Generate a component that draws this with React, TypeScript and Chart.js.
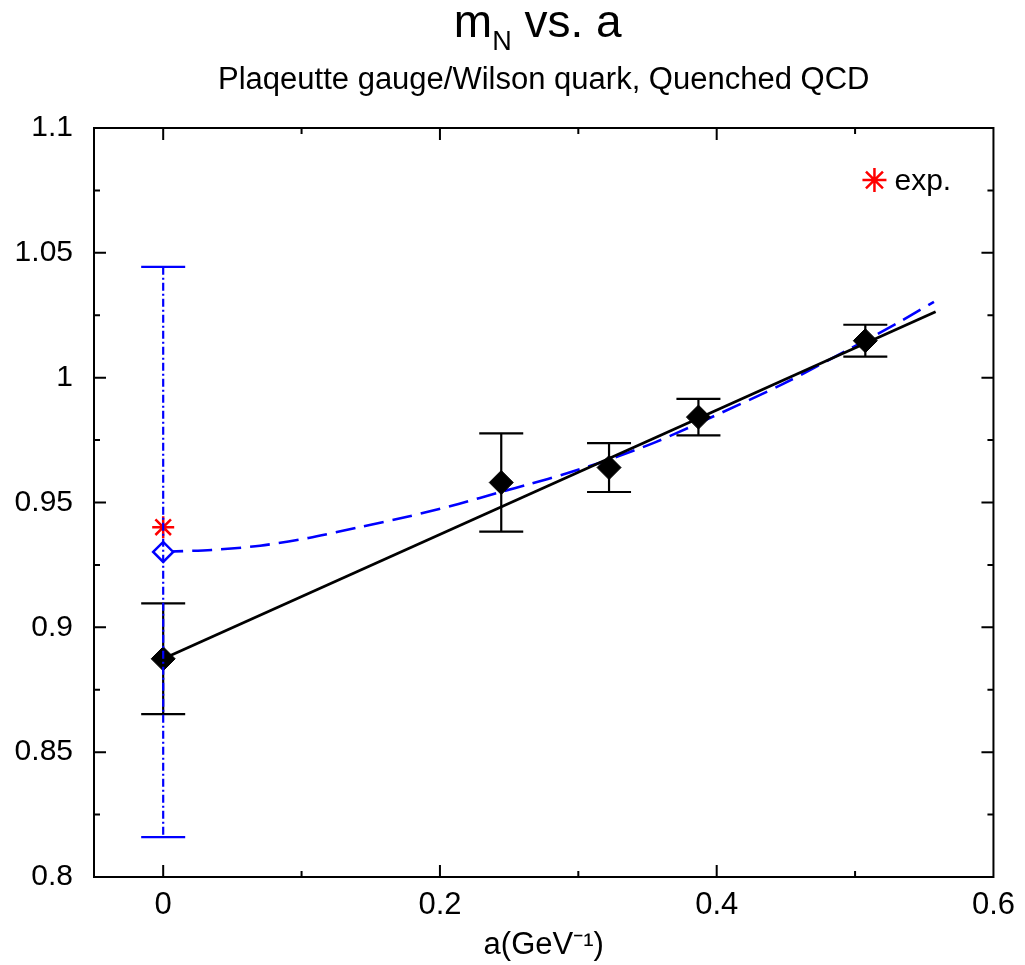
import React, { useEffect, useRef } from "react";
import { Chart, registerables } from "chart.js";

Chart.register(...registerables);

const SANS = "'Liberation Sans', Arial, Helvetica, sans-serif";

// ---- axis ticks ----
const xTickValues = [0, 0.2, 0.4, 0.6];
const xTickLabels = ["0", "0.2", "0.4", "0.6"];
const xMinorTicks = [0.1, 0.3, 0.5];
const yTickValues = [0.8, 0.85, 0.9, 0.95, 1.0, 1.05, 1.1];
const yTickLabels = ["0.8", "0.85", "0.9", "0.95", "1", "1.05", "1.1"];
const yMinorTicks = [0.825, 0.875, 0.925, 0.975, 1.025, 1.075];

// ---- simulation points (black diamonds) ----
const simA = [0, 0.2443, 0.3222, 0.3868, 0.5074];
const simM = [0.8874, 0.9580, 0.9640, 0.9842, 1.0148];
const simErr = [0.0222, 0.0197, 0.0098, 0.0073, 0.0064];

// ---- continuum value from curved fit (blue open diamond) ----
const contA = [0];
const contM = [0.9302];
const contErr = [0.1142];

// ---- experiment ----
const expA = [0];
const expM = [0.9401];

// ---- linear fit (black solid) ----
const linFitA = [0, 0.5582];
const linFitM = [0.8874, 1.0264];

// ---- curved fit (blue dashed) ----
const curveA = [0, 0.035, 0.07, 0.105, 0.1415, 0.178, 0.2134, 0.2443, 0.2636, 0.2924, 0.3223, 0.355, 0.3858, 0.448, 0.4959, 0.5318, 0.557];
const curveM = [0.9303, 0.931, 0.9327, 0.9358, 0.9401, 0.9445, 0.9494, 0.9543, 0.9572, 0.9618, 0.9672, 0.974, 0.9815, 0.9975, 1.0115, 1.0222, 1.0304];

const pts = (xs: number[], ys: number[]) => xs.map((v, i) => ({ x: v, y: ys[i] }));

const errorBarPlugin = {
  id: "errorBars",
  afterDatasetsDraw(chart: any) {
    const { ctx, scales } = chart;
    const x = scales.x;
    const y = scales.y;
    const bar = (a: number, m: number, e: number, color: string, dash: number[]) => {
      const px = x.getPixelForValue(a);
      const t = y.getPixelForValue(m + e);
      const b = y.getPixelForValue(m - e);
      ctx.save();
      ctx.strokeStyle = color;
      ctx.lineWidth = 2.2;
      ctx.setLineDash(dash);
      ctx.beginPath();
      ctx.moveTo(px, t);
      ctx.lineTo(px, b);
      ctx.stroke();
      ctx.setLineDash([]);
      ctx.beginPath();
      ctx.moveTo(px - 22, t);
      ctx.lineTo(px + 22, t);
      ctx.moveTo(px - 22, b);
      ctx.lineTo(px + 22, b);
      ctx.stroke();
      ctx.restore();
    };
    simA.forEach((a, i) => bar(a, simM[i], simErr[i], "#000000", []));
    contA.forEach((a, i) => bar(a, contM[i], contErr[i], "#0000ff", [8, 3, 2, 3]));
  },
};

const frameTicksPlugin = {
  id: "frameTicks",
  afterDraw(chart: any) {
    const { ctx, chartArea, scales } = chart;
    const { left, right, top, bottom } = chartArea;
    const x = scales.x;
    const y = scales.y;
    ctx.save();
    ctx.strokeStyle = "#000";
    ctx.lineWidth = 2;
    ctx.strokeRect(left, top, right - left, bottom - top);
    ctx.beginPath();
    const xt = (v: number, len: number) => {
      const p = x.getPixelForValue(v);
      if (p <= left + 1 || p >= right - 1) return;
      ctx.moveTo(p, bottom);
      ctx.lineTo(p, bottom - len);
      ctx.moveTo(p, top);
      ctx.lineTo(p, top + len);
    };
    const yt = (v: number, len: number) => {
      const p = y.getPixelForValue(v);
      if (p <= top + 1 || p >= bottom - 1) return;
      ctx.moveTo(left, p);
      ctx.lineTo(left + len, p);
      ctx.moveTo(right, p);
      ctx.lineTo(right - len, p);
    };
    xTickValues.forEach((v) => xt(v, 12));
    xMinorTicks.forEach((v) => xt(v, 6));
    yTickValues.forEach((v) => yt(v, 12));
    yMinorTicks.forEach((v) => yt(v, 6));
    ctx.stroke();
    ctx.restore();
  },
};

const titlePlugin = {
  id: "titles",
  afterDraw(chart: any) {
    const { ctx, chartArea } = chart;
    const cx = (chartArea.left + chartArea.right) / 2;
    ctx.save();
    ctx.fillStyle = "#000";
    ctx.textBaseline = "alphabetic";
    ctx.textAlign = "left";
    // main title with subscript
    const big = `46px ${SANS}`;
    const small = `27px ${SANS}`;
    ctx.font = big;
    const w1 = ctx.measureText("m").width;
    const w3 = ctx.measureText(" vs. a").width;
    ctx.font = small;
    const w2 = ctx.measureText("N").width;
    let sx = cx - 6 - (w1 + w2 + w3) / 2;
    ctx.font = big;
    ctx.fillText("m", sx, 37);
    sx += w1;
    ctx.font = small;
    ctx.fillText("N", sx, 50);
    sx += w2;
    ctx.font = big;
    ctx.fillText(" vs. a", sx, 37);
    // subtitle
    ctx.font = `31px ${SANS}`;
    ctx.textAlign = "center";
    ctx.fillText("Plaqeutte gauge/Wilson quark, Quenched QCD", cx, 89);
    // legend
    const lx = chartArea.right - 119;
    const ly = chartArea.top + 52;
    const r = 12;
    ctx.strokeStyle = "#ff0000";
    ctx.lineWidth = 2.5;
    ctx.beginPath();
    for (let k = 0; k < 4; k++) {
      const ang = (k * Math.PI) / 4;
      ctx.moveTo(lx - r * Math.cos(ang), ly - r * Math.sin(ang));
      ctx.lineTo(lx + r * Math.cos(ang), ly + r * Math.sin(ang));
    }
    ctx.stroke();
    ctx.font = `30px ${SANS}`;
    ctx.textAlign = "left";
    ctx.fillText("exp.", lx + 20, ly + 10);
    ctx.restore();
  },
};

export default function App() {
  const ref = useRef<HTMLCanvasElement | null>(null);
  useEffect(() => {
    if (!ref.current) return;
    const chart = new Chart(ref.current, {
      type: "scatter",
      data: {
        datasets: [
          {
            label: "simulation",
            data: pts(simA, simM),
            pointStyle: "rectRot",
            pointRadius: 12,
            backgroundColor: "#000000",
            borderColor: "#000000",
            borderWidth: 1,
            showLine: false,
          },
          {
            label: "continuum",
            data: pts(contA, contM),
            pointStyle: "rectRot",
            pointRadius: 10,
            backgroundColor: "#ffffff",
            borderColor: "#0000ff",
            borderWidth: 2.5,
            showLine: false,
          },
          {
            label: "exp.",
            data: pts(expA, expM),
            pointStyle: "star",
            pointRadius: 11,
            backgroundColor: "#ff0000",
            borderColor: "#ff0000",
            borderWidth: 2.5,
            showLine: false,
          },
          {
            label: "linear fit",
            data: pts(linFitA, linFitM),
            showLine: true,
            borderColor: "#000000",
            borderWidth: 2.8,
            pointRadius: 0,
          },
          {
            label: "quadratic fit",
            data: pts(curveA, curveM),
            showLine: true,
            borderColor: "#0000ff",
            borderWidth: 2.6,
            borderDash: [20, 9],
            tension: 0.3,
            pointRadius: 0,
          },
        ],
      },
      options: {
        animation: false,
        responsive: false,
        maintainAspectRatio: false,
        layout: { padding: { top: 128, right: 27, left: 0, bottom: 0 } },
        plugins: {
          legend: { display: false },
          title: { display: false },
          tooltip: { enabled: false },
        },
        scales: {
          x: {
            type: "linear",
            min: -0.05,
            max: 0.6,
            grid: { display: false, drawTicks: false },
            border: { display: false },
            afterBuildTicks: (s: any) => {
              s.ticks = xTickValues.map((v) => ({ value: v }));
            },
            afterFit: (s: any) => {
              s.height = 88;
            },
            ticks: {
              autoSkip: false,
              maxRotation: 0,
              padding: 10,
              color: "#000",
              font: { family: SANS, size: 31 },
              callback: (_v: any, i: number) => xTickLabels[i],
            },
            title: {
              display: true,
              text: "a(GeV⁻¹)",
              color: "#000",
              font: { family: SANS, size: 31 },
              padding: { top: 0, bottom: 1 },
            },
          },
          y: {
            type: "linear",
            min: 0.8,
            max: 1.1,
            grid: { display: false, drawTicks: false },
            border: { display: false },
            afterBuildTicks: (s: any) => {
              s.ticks = yTickValues.map((v) => ({ value: v }));
            },
            afterFit: (s: any) => {
              s.width = 94;
            },
            ticks: {
              autoSkip: false,
              padding: 21,
              color: "#000",
              font: { family: SANS, size: 30 },
              callback: (_v: any, i: number) => yTickLabels[i],
            },
          },
        },
      } as any,
      plugins: [errorBarPlugin, frameTicksPlugin, titlePlugin],
    });
    return () => chart.destroy();
  }, []);
  return (
    <div style={{ position: "absolute", left: 0, top: 0, width: 1025, height: 965, background: "#fff" }}>
      <canvas ref={ref} width={1025} height={965} style={{ width: 1025, height: 965 }} />
    </div>
  );
}
